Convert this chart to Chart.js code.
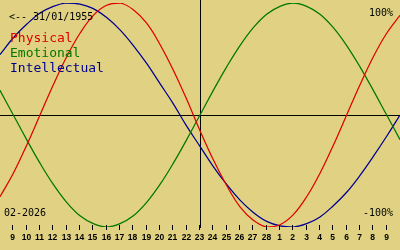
<!DOCTYPE html>
<html>
<head>
<meta charset="utf-8">
<script src="https://cdn.jsdelivr.net/npm/chart.js@4"></script>
<style>
    html, body { margin: 0; padding: 0; background: #e0d282; }
    #wrap { width: 400px; height: 250px; }
</style>
</head>
<body>
<div id="wrap"><canvas id="bio" width="400" height="250"></canvas></div>
<script>
// days shown along the bottom (Feb 8 .. Mar 10, edges unlabeled)
const dayLabels = ["", "9", "10", "11", "12", "13", "14", "15", "16", "17", "18", "19", "20",
    "21", "22", "23", "24", "25", "26", "27", "28", "1", "2", "3", "4", "5", "6", "7", "8", "9", ""];

// cycle values in percent, one per day
const physical = [-73, -52, -27, 0, 27, 52, 73, 89, 98, 100, 94, 82, 63, 40, 14,
    -14, -40, -63, -82, -94, -100, -98, -89, -73, -52, -27, 0, 27, 52, 73, 89];
const emotional = [22, 0, -22, -43, -62, -78, -90, -97, -100, -97, -90, -78, -62, -43, -22,
    0, 22, 43, 62, 78, 90, 97, 100, 97, 90, 78, 62, 43, 22, 0, -22];
const intellectual = [54, 69, 81, 91, 97, 100, 99, 95, 87, 76, 62, 46, 28, 10, -10,
    -28, -46, -62, -76, -87, -95, -99, -100, -97, -91, -81, -69, -54, -37, -19, 0];

const todayIndex = 15;
const birthText = "<-- 31/01/1955";
const monthText = "02-2026";
const topText = "100%";
const bottomText = "-100%";

const COLORS = {
    bg: "#e0d282",
    physical: "#e00000",
    emotional: "#007800",
    intellectual: "#000090",
    ink: "#000000"
};

const bioPlugin = {
    id: "bio",
    beforeDraw(chart) {
        const ctx = chart.ctx;
        ctx.save();
        ctx.fillStyle = COLORS.bg;
        ctx.fillRect(0, 0, chart.width, chart.height);
        ctx.restore();
    },
    beforeDatasetsDraw(chart) {
        const { ctx, scales: { x, y } } = chart;
        ctx.save();
        ctx.fillStyle = COLORS.ink;
        const y0 = Math.round(y.getPixelForValue(0));
        ctx.fillRect(0, y0, chart.width, 1);
        const xt = Math.round(x.getPixelForValue(todayIndex));
        ctx.fillRect(xt, 0, 1, 228);
        ctx.restore();
    },
    afterDraw(chart) {
        const { ctx, scales: { x } } = chart;
        ctx.save();
        ctx.fillStyle = COLORS.ink;

        // day ticks + labels
        ctx.font = "bold 8.5px 'Liberation Sans'";
        ctx.textAlign = "center";
        ctx.textBaseline = "middle";
        dayLabels.forEach((lab, i) => {
            if (!lab) return;
            const px = Math.round(x.getPixelForValue(i)) - 1;
            ctx.fillRect(px, 225, 1, 5);
            ctx.fillText(lab, px + 0.5, 238);
        });

        ctx.textBaseline = "alphabetic";
        ctx.font = "10px 'DejaVu Sans Mono'";
        ctx.textAlign = "left";
        ctx.fillText(birthText, 9, 20);
        ctx.fillText(monthText, 4, 216);
        ctx.textAlign = "right";
        ctx.fillText(topText, 393, 16);
        ctx.fillText(bottomText, 393, 216);

        ctx.textAlign = "left";
        ctx.font = "13px 'DejaVu Sans Mono'";
        ctx.fillStyle = COLORS.physical;
        ctx.fillText("Physical", 10, 42);
        ctx.fillStyle = COLORS.emotional;
        ctx.fillText("Emotional", 10, 57);
        ctx.fillStyle = COLORS.intellectual;
        ctx.fillText("Intellectual", 10, 72);
        ctx.restore();
    }
};

const series = [
    { label: "Physical", data: physical, color: COLORS.physical },
    { label: "Emotional", data: emotional, color: COLORS.emotional },
    { label: "Intellectual", data: intellectual, color: COLORS.intellectual }
];

new Chart(document.getElementById("bio").getContext("2d"), {
    type: "line",
    data: {
        labels: dayLabels,
        datasets: series.map(s => ({
            label: s.label,
            data: s.data,
            borderColor: s.color,
            backgroundColor: "transparent",
            borderWidth: 1.25,
            pointRadius: 0,
            tension: 0.4,
            fill: false
        }))
    },
    options: {
        responsive: false,
        devicePixelRatio: 1,
        animation: false,
        layout: { padding: { top: 3, bottom: 23, left: 0, right: 0 } },
        plugins: { legend: { display: false }, tooltip: { enabled: false } },
        scales: {
            x: { display: false, offset: false },
            y: { display: false, min: -100, max: 100 }
        }
    },
    plugins: [bioPlugin]
});
</script>
</body>
</html>
